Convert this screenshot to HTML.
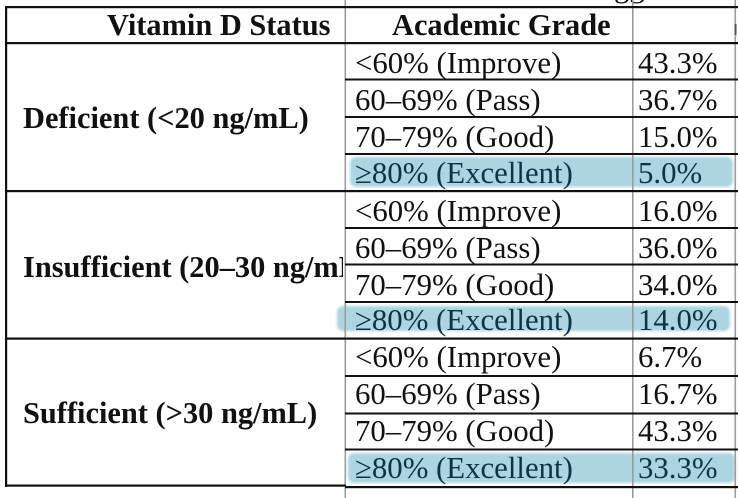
<!DOCTYPE html>
<html>
<head>
<meta charset="utf-8">
<style>
  html, body { margin:0; padding:0; background:#fff; }
  body { width:738px; height:498px; overflow:hidden; }
  svg { display:block; }
  text { font-family: "Liberation Serif", "Times New Roman", serif; font-size:30.8px; fill:#111; }
  .b { font-weight:bold; font-size:30.4px; }
  .hl { fill:#0c3444; }
</style>
</head>
<body>
<svg width="738" height="498" viewBox="0 0 738 498" xmlns="http://www.w3.org/2000/svg">
  <defs>
    <filter id="soft" x="-5%" y="-30%" width="110%" height="160%">
      <feGaussianBlur stdDeviation="1.2"/>
    </filter>
    <clipPath id="leftclip"><rect x="0" y="0" width="343" height="498"/></clipPath>
  </defs>
  <rect width="738" height="498" fill="#fff"/>

  <!-- highlights -->
  <rect x="350" y="157" width="383" height="30" rx="6" fill="#acd5e1" filter="url(#soft)"/>
  <rect x="337" y="306" width="393" height="25" rx="6" fill="#acd5e1" filter="url(#soft)"/>
  <rect x="348" y="453" width="387" height="30" rx="6" fill="#acd5e1" filter="url(#soft)"/>

  <!-- clipped text at top -->
  <text x="614" y="-3">gg</text>

  <!-- vertical gray lines -->
  <rect x="344.5" y="0" width="1.6" height="498" fill="#9c9c9c"/>
  <rect x="632" y="0" width="1.6" height="498" fill="#9c9c9c"/>
  <rect x="734.5" y="0" width="1.6" height="498" fill="#9c9c9c"/>
  <rect x="734.5" y="24" width="2" height="11" fill="#555"/>

  <!-- left border -->
  <rect x="5" y="6" width="2.2" height="481" fill="#111"/>

  <!-- horizontal black lines -->
  <rect x="5" y="6" width="733" height="2.2" fill="#111"/>
  <rect x="5" y="42" width="733" height="2.2" fill="#111"/>
  <!-- group 1 rows -->
  <rect x="345" y="78.5" width="393" height="2" fill="#111"/>
  <rect x="345" y="116" width="393" height="2" fill="#111"/>
  <rect x="345" y="153" width="393" height="2" fill="#111"/>
  <rect x="5" y="190" width="733" height="2.2" fill="#111"/>
  <!-- group 2 rows -->
  <rect x="345" y="227" width="393" height="2" fill="#111"/>
  <rect x="345" y="263.5" width="393" height="2" fill="#111"/>
  <rect x="345" y="301" width="393" height="2" fill="#111"/>
  <rect x="5" y="337.5" width="733" height="2.2" fill="#111"/>
  <!-- group 3 rows -->
  <rect x="345" y="375" width="393" height="2" fill="#111"/>
  <rect x="345" y="412.5" width="393" height="2" fill="#111"/>
  <rect x="345" y="448.5" width="393" height="2" fill="#111"/>
  <rect x="5" y="484.5" width="341" height="2.2" fill="#111"/>
  <rect x="345" y="486" width="393" height="2.2" fill="#111"/>

  <!-- headers -->
  <text class="b" x="107" y="35">Vitamin D Status</text>
  <text class="b" x="392" y="35">Academic Grade</text>

  <!-- group labels -->
  <text class="b" x="23" y="128">Deficient (&lt;20 ng/mL)</text>
  <g clip-path="url(#leftclip)"><text class="b" x="23" y="277">Insufficient (20–30 ng/mL)</text></g>
  <text class="b" x="23" y="423">Sufficient (&gt;30 ng/mL)</text>

  <!-- group 1 -->
  <text x="355" y="73">&lt;60% (Improve)</text><text x="638" y="73">43.3%</text>
  <text x="355" y="110">60–69% (Pass)</text><text x="638" y="110">36.7%</text>
  <text x="355" y="147">70–79% (Good)</text><text x="638" y="147">15.0%</text>
  <text class="hl" x="355" y="183">≥80% (Excellent)</text><text class="hl" x="638" y="183">5.0%</text>

  <!-- group 2 -->
  <text x="355" y="221">&lt;60% (Improve)</text><text x="638" y="221">16.0%</text>
  <text x="355" y="258">60–69% (Pass)</text><text x="638" y="258">36.0%</text>
  <text x="355" y="295">70–79% (Good)</text><text x="638" y="295">34.0%</text>
  <text class="hl" x="355" y="330">≥80% (Excellent)</text><text class="hl" x="638" y="330">14.0%</text>

  <!-- group 3 -->
  <text x="355" y="367">&lt;60% (Improve)</text><text x="638" y="367">6.7%</text>
  <text x="355" y="404">60–69% (Pass)</text><text x="638" y="404">16.7%</text>
  <text x="355" y="441">70–79% (Good)</text><text x="638" y="441">43.3%</text>
  <text class="hl" x="355" y="478">≥80% (Excellent)</text><text class="hl" x="638" y="478">33.3%</text>
</svg>
</body>
</html>
